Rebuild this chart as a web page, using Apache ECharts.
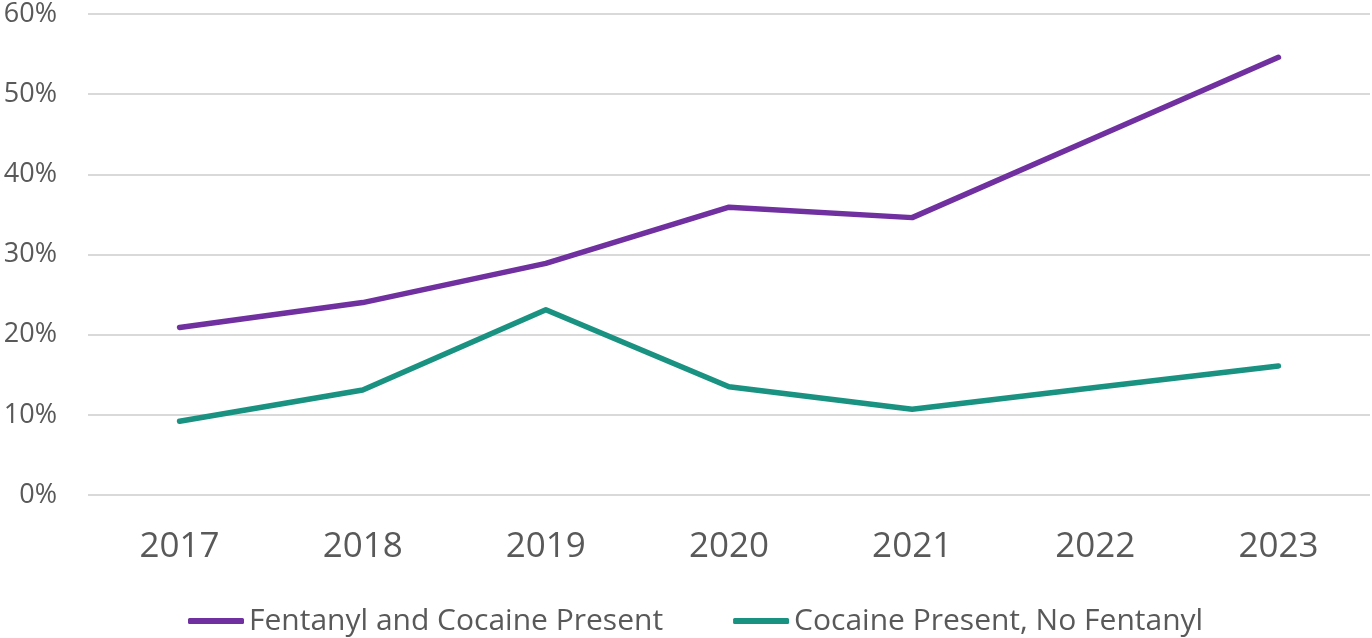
<!DOCTYPE html>
<html>
<head>
<meta charset="utf-8">
<script src="https://cdn.jsdelivr.net/npm/echarts@6/dist/echarts.min.js"></script>
<style>html,body{margin:0;padding:0;background:#fff}#c{width:1372px;height:638px}</style>
</head>
<body>
<div id="c"></div>
<script>
const years = ['2017','2018','2019','2020','2021','2022','2023'];
const fentanylCocaine = [20.9, 24.0, 28.9, 35.9, 34.6, 44.6, 54.6];
const cocaineNoFentanyl = [9.2, 13.1, 23.1, 13.5, 10.7, 13.4, 16.1];
const seriesNames = ['Fentanyl and Cocaine Present', 'Cocaine Present, No Fentanyl'];

const font = 'Open Sans';
const txt = '#595959';
const chart = echarts.init(document.getElementById('c'));
chart.setOption({
  animation: false,
  textStyle: { fontFamily: font },
  grid: { left: 88, right: 2, top: 14, bottom: 143, containLabel: false },
  legend: {
    bottom: 2,
    left: 188,
    padding: 0,
    itemWidth: 56,
    itemHeight: 6,
    itemGap: 70,
    icon: 'roundRect',
    textStyle: { fontFamily: font, fontSize: 30, color: txt, padding: [0, 0, 0, 0] },
    data: seriesNames
  },
  xAxis: {
    type: 'category',
    data: years,
    boundaryGap: true,
    axisLine: { show: false },
    axisTick: { show: false },
    axisLabel: { fontFamily: font, fontSize: 35, color: txt, margin: 35 }
  },
  yAxis: {
    type: 'value',
    min: 0, max: 60, interval: 10,
    axisLabel: { formatter: '{value}%', fontFamily: font, fontSize: 27, color: txt, margin: 31 },
    splitLine: { lineStyle: { color: '#d9d9d9', width: 2 } },
    axisLine: { show: false },
    axisTick: { show: false }
  },
  series: [
    { name: seriesNames[0], type: 'line', data: fentanylCocaine, symbol: 'none',
      itemStyle: { color: '#7030a0' }, lineStyle: { color: '#7030a0', width: 5.5, cap: 'round', join: 'round' } },
    { name: seriesNames[1], type: 'line', data: cocaineNoFentanyl, symbol: 'none',
      itemStyle: { color: '#1a9282' }, lineStyle: { color: '#1a9282', width: 5.5, cap: 'round', join: 'round' } }
  ]
});
</script>
</body>
</html>
